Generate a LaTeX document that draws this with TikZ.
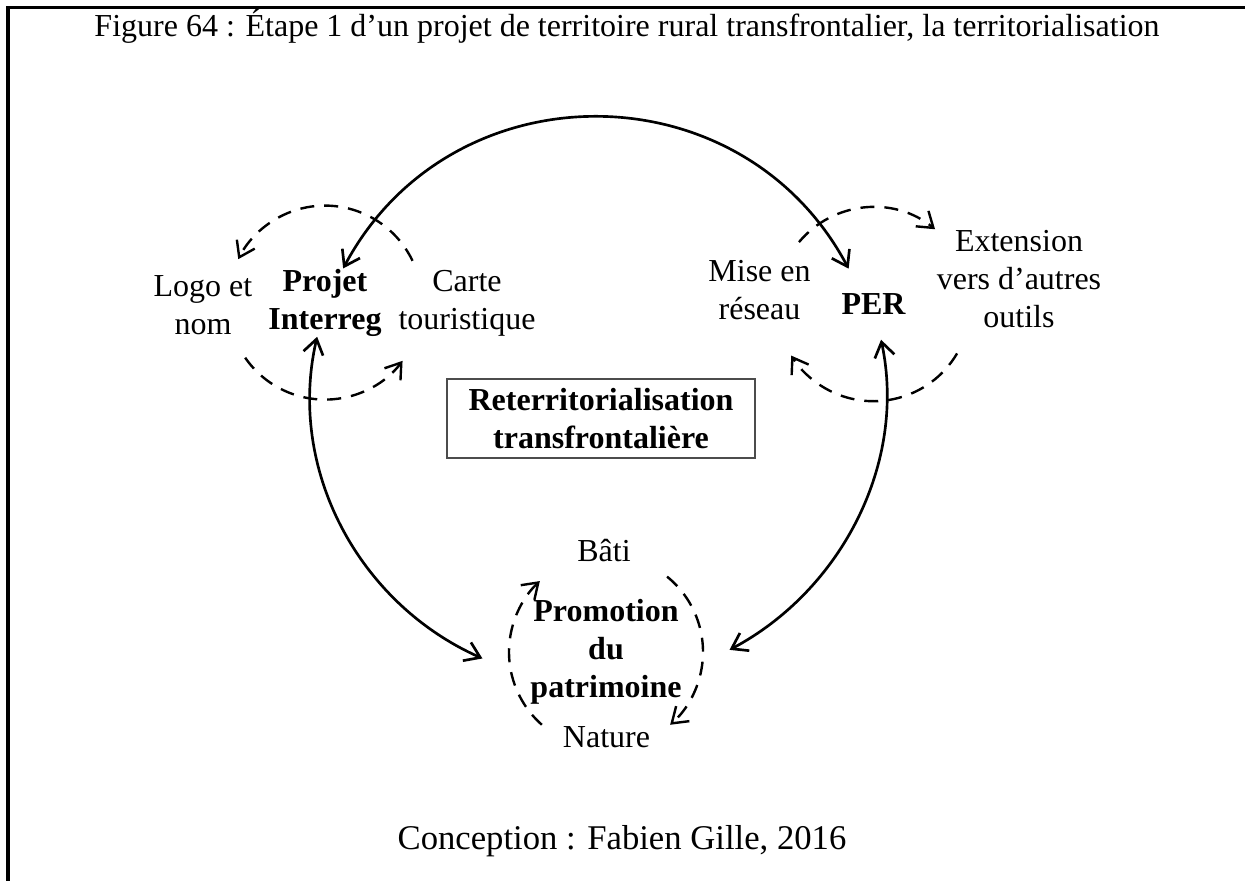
\documentclass[tikz,border=0pt]{standalone}
\usepackage{fontspec}
\setmainfont{Liberation Serif}
\usetikzlibrary{arrows.meta, calc}

\begin{document}
\begin{tikzpicture}[
      x=0.375pt, y=0.375pt,
      every node/.style={font=\fontsize{12}{14.25}\selectfont, inner sep=0pt},
      lbl/.style={align=center},
      hub/.style={align=center, font=\fontsize{12}{14.25}\selectfont\bfseries},
      cadre/.style={draw=black!70, line width=0.7pt},
      ring/.style={dash pattern=on 5.25pt off 3.75pt, line width=0.9pt},
      lien/.style={line width=1pt},
      >={Straight Barb[length=5.5pt, width=7.5pt]}
    ]
    \useasboundingbox (0,0) rectangle (1245,-881);
    \draw[line width=1.3pt] (1245,-7.5) -- (8,-7.5) -- (8,-881);

    \node[anchor=base] (titre) at (627,-37)
          {Figure 64 : Étape 1 d’un projet de territoire rural transfrontalier, la territorialisation};

    % pôles
    \node[hub] (Interreg) at (325,-302.6) {Projet\\Interreg};
    \node[hub, minimum size=26.25pt] (PER) at (873.5,-304.2) {PER};
    \node[hub, inner xsep=17.8pt] (Promotion) at (606,-652) {Promotion\\du\\patrimoine};
    \node[hub, cadre, minimum width=115.5pt, minimum height=29.6pt]
          (Reterr) at (601,-418.5) {Reterritorialisation\\transfrontalière};

    % libellés autour des pôles
    \node[lbl] (Logo) at (203,-305.4) {Logo et\\nom};
    \node[lbl] (Carte) at (467,-303) {Carte\\touristique};
    \node[lbl] (Mise) at (759.5,-290) {Mise en\\réseau};
    \node[lbl] (Extension) at (1019,-279.5) {Extension\\vers d’autres\\outils};
    \node[anchor=base] (Bati) at (604,-561) {Bâti};
    \node[anchor=base] (Nature) at (606.5,-747) {Nature};
    \node[anchor=base, font=\fontsize{13}{15}\selectfont] (source) at (622,-849)
          {Conception : Fabien Gille, 2016};

    % liens entre les pôles
    \draw[lien, <->] (Interreg) to[out=62, in=118, looseness=1.16] (PER.125);
    \draw[lien, <->] (Interreg) to[out=-103, in=156, looseness=0.96] (Promotion.183);
    \draw[lien, <->] (PER) to[out=-78, in=28, looseness=0.935] (Promotion.1);

    % boucles autour des pôles
    \draw[ring, ->] ($(Interreg)+(25.5:97)$) arc[start angle=25.5, end angle=153.4, radius=97];
    \draw[ring, ->] ($(Interreg)+(214.6:97)$) arc[start angle=214.6, end angle=323.1, radius=97];
    \draw[ring, ->] ($(PER)+(140.2:97)$) arc[start angle=140.2, end angle=50.6, radius=97];
    \draw[ring, ->] ($(PER)+(-30.5:97)$) arc[start angle=-30.5, end angle=-148, radius=97];
    \draw[ring, ->] ($(Promotion)+(228.6:97)$) arc[start angle=228.6, end angle=133, radius=97];
    \draw[ring, ->] ($(Promotion)+(51:97)$) arc[start angle=51, end angle=-48.6, radius=97];
\end{tikzpicture}
\end{document}
